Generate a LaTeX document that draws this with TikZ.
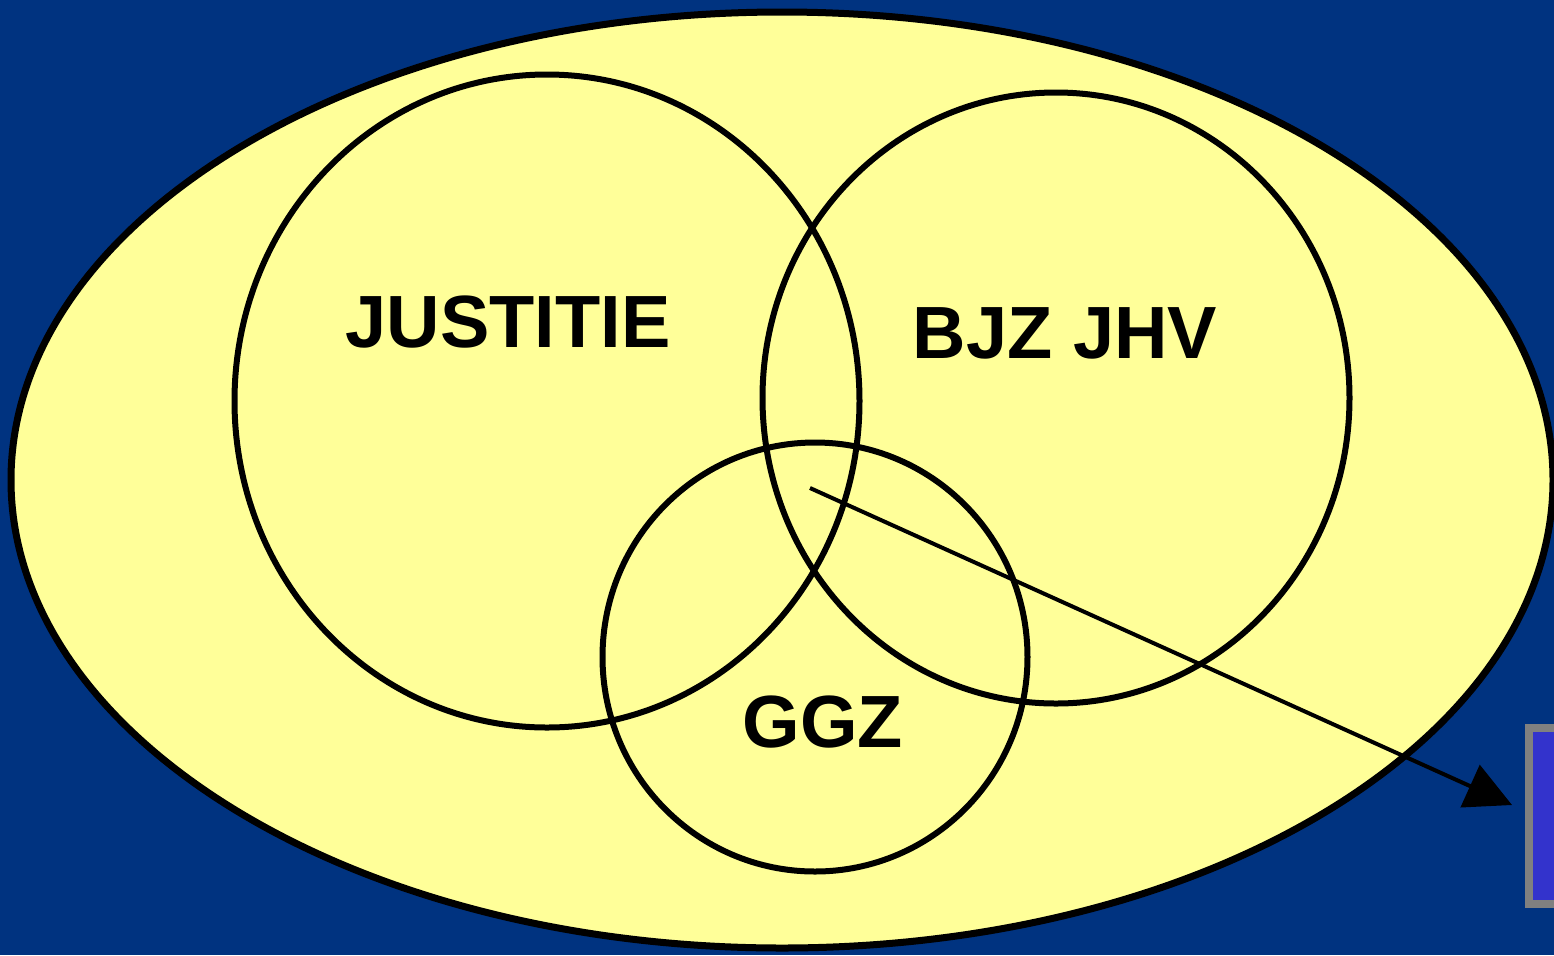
\documentclass[tikz,border=0pt]{standalone}
\usepackage{fontspec}
\setmainfont{Liberation Sans}
\usepackage{tikz}
\usetikzlibrary{arrows.meta,positioning}
\definecolor{bg}{HTML}{003380}
\definecolor{pale}{HTML}{FFFF99}
\definecolor{boxfill}{HTML}{3333CC}
\definecolor{boxrim}{HTML}{808080}
\tikzset{
  ring/.style={draw=black,line width=3pt},
  lbl/.style={font=\fontsize{37}{41}\selectfont\bfseries,inner sep=0pt},
  arr/.style={-{Triangle[length=23pt,width=23pt]},draw=black,line width=2pt},
}
\begin{document}
\begin{tikzpicture}[x=0.5pt,y=-0.5pt]
\fill[bg] (0,0) rectangle (1554,955);
\useasboundingbox (0,0) rectangle (1554,955);
\clip (0,0) rectangle (1554,955);
% outer field
\draw[draw=black,fill=pale,line width=3.5pt] (782,480) ellipse [x radius=771,y radius=468];
% three sectors
\draw[ring] (547,401) ellipse [x radius=312.5,y radius=326.5];
\draw[ring] (1056,398) ellipse [x radius=293.5,y radius=305.5];
\draw[ring] (815,657) ellipse [x radius=212.5,y radius=214.5];
\node[lbl] (just) at (508,322) {JUSTITIE};
\node[lbl] (bjz) at (1065,333) {BJZ JHV};
\node[lbl] (ggz) at (823,722) {GGZ};
% box at the right edge
\node[draw=boxrim,fill=boxfill,line width=4pt,minimum width=86pt,minimum height=88pt,inner sep=0pt] (side) at (1615,816) {};
\coordinate (mid) at (810,488);
\coordinate (tip) at (1512,805);
\draw[arr] (mid) -- (tip);
\end{tikzpicture}
\end{document}
